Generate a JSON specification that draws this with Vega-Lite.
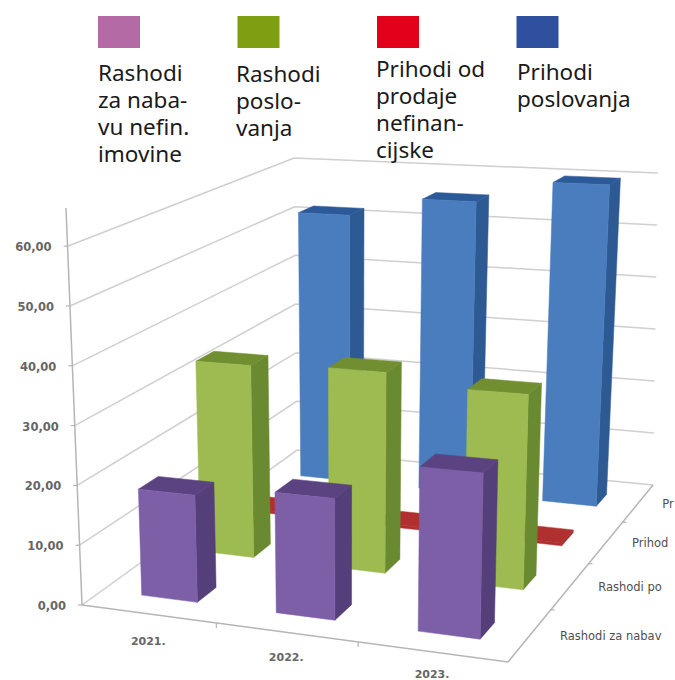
{
"$schema":"https://vega.github.io/schema/vega-lite/v6.json",
"width":675,"height":680,"padding":0,
"autosize":{"type":"none"},
"background":"white",
"config":{"view":{"stroke":null}},
"datasets":{
"bars":[
{"series":"Prihodi poslovanja","year":"2021.","value":52},
{"series":"Prihodi poslovanja","year":"2022.","value":55.8},
{"series":"Prihodi poslovanja","year":"2023.","value":60.1},
{"series":"Prihodi od prodaje nefinancijske","year":"2021.","value":0.5},
{"series":"Prihodi od prodaje nefinancijske","year":"2022.","value":0.5},
{"series":"Prihodi od prodaje nefinancijske","year":"2023.","value":0.5},
{"series":"Rashodi poslovanja","year":"2021.","value":33.9},
{"series":"Rashodi poslovanja","year":"2022.","value":34.6},
{"series":"Rashodi poslovanja","year":"2023.","value":32.8},
{"series":"Rashodi za nabavu nefin. imovine","year":"2021.","value":17.9},
{"series":"Rashodi za nabavu nefin. imovine","year":"2022.","value":19.8},
{"series":"Rashodi za nabavu nefin. imovine","year":"2023.","value":26.3}
],
"ticks":[{"tick":0},{"tick":10},{"tick":20},{"tick":30},{"tick":40},{"tick":50},{"tick":60}],
"legend":[
{"series":"Rashodi za nabavu nefin. imovine","lines":["Rashodi","za naba-","vu nefin.","imovine"],"shown":"Rashodi za nabav"},
{"series":"Rashodi poslovanja","lines":["Rashodi","poslo-","vanja"],"shown":"Rashodi po"},
{"series":"Prihodi od prodaje nefinancijske","lines":["Prihodi od","prodaje","nefinan-","cijske"],"shown":"Prihod"},
{"series":"Prihodi poslovanja","lines":["Prihodi","poslovanja"],"shown":"Pr"}
],
"years":[{"year":"2021."},{"year":"2022."},{"year":"2023."}]
},
"layer":[
{"data":{"name":"ticks"},
"transform":[
{"calculate":"[0,1,2]","as":"pts"},{"flatten":["pts"],"as":["pt"]},
{"calculate":"[0,0,1][datum.pt]","as":"pu"},{"calculate":"[0,1,1][datum.pt]","as":"pv"},{"calculate":"datum.tick","as":"ph"},
{"calculate":"1-0.079*datum.pu+0.2288*datum.pv","as":"w"},
{"calculate":"(385.9*datum.pu+283*datum.pv+82)/datum.w","as":"xb"},
{"calculate":"(4.7*datum.pu-52*datum.pv+605)/datum.w","as":"yb"},
{"calculate":"datum.pt<2?datum.xb+datum.ph*(datum.xb-350)*0.0009:datum.xb+datum.ph*0.08","as":"px"},
{"calculate":"datum.yb-datum.ph*5.98/datum.w","as":"py"}
],
"mark":{"type":"line","color":"#cfcfcf","strokeWidth":1.5},
"encoding":{
"x":{"field":"px","type":"quantitative","axis":null,"scale":{"domain":[0,675],"nice":false,"zero":false}},
"y":{"field":"py","type":"quantitative","axis":null,"scale":{"domain":[680,0],"nice":false,"zero":false}},
"detail":{"field":"tick"},"order":{"field":"pt"}}},
{"data":{"name":"ticks"},
"transform":[
{"filter":"datum.tick==0"},
{"calculate":"[0,1,2]","as":"pts"},{"flatten":["pts"],"as":["pt"]},
{"calculate":"[0,1,1][datum.pt]","as":"pu"},{"calculate":"[0,0,1][datum.pt]","as":"pv"},
{"calculate":"1-0.079*datum.pu+0.2288*datum.pv","as":"w"},
{"calculate":"(385.9*datum.pu+283*datum.pv+82)/datum.w","as":"px"},
{"calculate":"(4.7*datum.pu-52*datum.pv+605)/datum.w","as":"py"}
],
"mark":{"type":"line","color":"#b5b5b5","strokeWidth":1.5},
"encoding":{"x":{"field":"px","type":"quantitative"},"y":{"field":"py","type":"quantitative"},"order":{"field":"pt"}}},
{"data":{"name":"years"},
"transform":[
{"calculate":"indexof(['2021.','2022.','2023.'],datum.year)/3","as":"pu"},
{"filter":"datum.pu>0"},
{"calculate":"1-0.079*datum.pu","as":"w"},
{"calculate":"(385.9*datum.pu+82)/datum.w","as":"px"},
{"calculate":"(4.7*datum.pu+605)/datum.w","as":"py"},
{"calculate":"datum.py+5","as":"py2"}
],
"mark":{"type":"rule","color":"#b5b5b5","strokeWidth":1.2},
"encoding":{"x":{"field":"px","type":"quantitative"},"y":{"field":"py","type":"quantitative"},"y2":{"field":"py2"}}},
{"data":{"name":"legend"},
"transform":[
{"calculate":"indexof(['Rashodi za nabavu nefin. imovine','Rashodi poslovanja','Prihodi od prodaje nefinancijske','Prihodi poslovanja'],datum.series)/4","as":"pv"},
{"filter":"datum.pv>0"},
{"calculate":"0.921+0.2288*datum.pv","as":"w"},
{"calculate":"(467.9+283*datum.pv)/datum.w","as":"px"},
{"calculate":"(609.7-52*datum.pv)/datum.w","as":"py"},
{"calculate":"datum.px+4","as":"px2"}
],
"mark":{"type":"rule","color":"#b5b5b5","strokeWidth":1.2},
"encoding":{"x":{"field":"px","type":"quantitative"},"x2":{"field":"px2"},"y":{"field":"py","type":"quantitative"}}},
{"data":{"name":"ticks"},
"transform":[
{"calculate":"82+datum.tick*(82-350)*0.0009","as":"px"},
{"calculate":"605-datum.tick*5.98","as":"py"},
{"calculate":"datum.px-4","as":"px2"},
{"calculate":"replace(format(datum.tick,'.2f'),'.',',')","as":"lab"}
],
"layer":[
{"mark":{"type":"line","color":"#b5b5b5","strokeWidth":1.5},
"transform":[{"filter":"datum.tick==0||datum.tick==60"},{"calculate":"datum.tick==60?208:datum.py","as":"py"},{"calculate":"datum.tick==60?66:datum.px","as":"px"}],
"encoding":{"x":{"field":"px","type":"quantitative"},"y":{"field":"py","type":"quantitative"},"order":{"field":"tick"}}},
{"mark":{"type":"rule","color":"#b5b5b5","strokeWidth":1.2},
"encoding":{"x":{"field":"px","type":"quantitative"},"x2":{"field":"px2"},"y":{"field":"py","type":"quantitative"}}},
{"transform":[{"calculate":"datum.px-16","as":"lx"},{"calculate":"datum.py+2","as":"ly"}],
"mark":{"type":"text","align":"right","baseline":"middle","font":"DejaVu Sans","fontSize":11.5,"fontWeight":"bold","color":"#666666"},
"encoding":{"x":{"field":"lx","type":"quantitative"},"y":{"field":"ly","type":"quantitative"},"text":{"field":"lab"}}}
]},
{"data":{"name":"bars"},
"transform":[
{"calculate":"indexof(['Rashodi za nabavu nefin. imovine','Rashodi poslovanja','Prihodi od prodaje nefinancijske','Prihodi poslovanja'],datum.series)","as":"si"},
{"calculate":"indexof(['2021.','2022.','2023.'],datum.year)","as":"yi"},
{"calculate":"['side','top','front']","as":"faces"},{"flatten":["faces"],"as":["face"]},
{"calculate":"[0,1,2,3]","as":"cs"},{"flatten":["cs"],"as":["c"]},
{"calculate":"datum.face=='side'?1:[0,1,1,0][datum.c]","as":"bu"},
{"calculate":"datum.face=='front'?0:datum.face=='side'?[0,1,1,0][datum.c]:[0,0,1,1][datum.c]","as":"bv"},
{"calculate":"datum.face=='top'?1:[0,0,1,1][datum.c]","as":"bh"},
{"calculate":"(datum.yi+0.3)/3+0.14*datum.bu","as":"pu"},
{"calculate":"0.08+0.25*datum.si+0.08*datum.bv","as":"pv"},
{"calculate":"datum.bh*datum.value","as":"ph"},
{"calculate":"1-0.079*datum.pu+0.2288*datum.pv","as":"w"},
{"calculate":"(385.9*datum.pu+283*datum.pv+82)/datum.w","as":"xb"},
{"calculate":"(4.7*datum.pu-52*datum.pv+605)/datum.w","as":"yb"},
{"calculate":"datum.xb+datum.ph*(datum.xb-350)*0.0009","as":"px"},
{"calculate":"datum.yb-datum.ph*5.98/datum.w","as":"py"},
{"calculate":"datum.si+'-'+datum.face","as":"key"},
{"calculate":"datum.si+'-'+datum.yi+'-'+datum.face","as":"fid"}
],
"mark":{"type":"line","interpolate":"linear-closed","strokeWidth":0.5},
"encoding":{
"x":{"field":"px","type":"quantitative"},
"y":{"field":"py","type":"quantitative"},
"detail":{"field":"fid"},
"order":{"field":"c"},
"fill":{"field":"key","type":"nominal","legend":null,"scale":{"domain":["0-front","0-side","0-top","1-front","1-side","1-top","2-front","2-side","2-top","3-front","3-side","3-top","swatch-0","swatch-1","swatch-2","swatch-3"],"range":["#7D5FA8","#553F7B","#5B4382","#9DBB51","#6A8A31","#718F30","#B03030","#A32B2B","#B03030","#4A7DBE","#2E5A94","#2C5998","#B46AA5","#7F9F12","#E2001A","#2F4F9F"]}},
"stroke":{"field":"key","type":"nominal","legend":null,"scale":{"domain":["0-front","0-side","0-top","1-front","1-side","1-top","2-front","2-side","2-top","3-front","3-side","3-top"],"range":["#7D5FA8","#553F7B","#5B4382","#9DBB51","#6A8A31","#718F30","#B03030","#A32B2B","#B03030","#4A7DBE","#2E5A94","#2C5998"]}}
}},
{"data":{"name":"years"},
"transform":[
{"calculate":"(indexof(['2021.','2022.','2023.'],datum.year)+0.5)/3","as":"pu"},
{"calculate":"1-0.079*datum.pu","as":"w"},
{"calculate":"(385.9*datum.pu+82)/datum.w","as":"px"},
{"calculate":"(4.7*datum.pu+605)/datum.w+29.5-7*datum.pu","as":"py"}
],
"mark":{"type":"text","align":"center","baseline":"middle","font":"DejaVu Sans","fontSize":11,"fontWeight":"bold","color":"#666666"},
"encoding":{"x":{"field":"px","type":"quantitative"},"y":{"field":"py","type":"quantitative"},"text":{"field":"year"}}},
{"data":{"name":"legend"},
"transform":[
{"calculate":"indexof(['Rashodi za nabavu nefin. imovine','Rashodi poslovanja','Prihodi od prodaje nefinancijske','Prihodi poslovanja'],datum.series)","as":"si"},
{"calculate":"(datum.si+0.5)/4","as":"pv"},
{"calculate":"0.921+0.2288*datum.pv","as":"w"},
{"calculate":"(467.9+283*datum.pv)/datum.w+30-2*datum.si","as":"px"},
{"calculate":"(609.7-52*datum.pv)/datum.w+2","as":"py"}
],
"mark":{"type":"text","align":"left","baseline":"middle","font":"DejaVu Sans","fontSize":11.5,"color":"#4f4f4f"},
"encoding":{"x":{"field":"px","type":"quantitative"},"y":{"field":"py","type":"quantitative"},"text":{"field":"shown"}}},
{"data":{"name":"legend"},
"transform":[
{"calculate":"indexof(['Rashodi za nabavu nefin. imovine','Rashodi poslovanja','Prihodi od prodaje nefinancijske','Prihodi poslovanja'],datum.series)","as":"si"},
{"calculate":"98+139.5*datum.si","as":"x0"},{"calculate":"datum.x0+42","as":"x1"},
{"calculate":"16","as":"y0"},{"calculate":"48","as":"y1"},
{"calculate":"'swatch-'+datum.si","as":"key"}
],
"mark":{"type":"rect"},
"encoding":{"x":{"field":"x0","type":"quantitative"},"x2":{"field":"x1"},"y":{"field":"y0","type":"quantitative"},"y2":{"field":"y1"},"fill":{"field":"key","type":"nominal","legend":null}}},
{"data":{"name":"legend"},
"transform":[
{"calculate":"indexof(['Rashodi za nabavu nefin. imovine','Rashodi poslovanja','Prihodi od prodaje nefinancijske','Prihodi poslovanja'],datum.series)","as":"si"},
{"calculate":"[98,236,376,517][datum.si]","as":"tx"},
{"calculate":"[81,82,77,80][datum.si]","as":"ty"}
],
"mark":{"type":"text","align":"left","baseline":"alphabetic","font":"Noto Sans","fontSize":22.5,"lineHeight":27,"color":"#1a1a1a"},
"encoding":{"x":{"field":"tx","type":"quantitative"},"y":{"field":"ty","type":"quantitative"},"text":{"field":"lines"}}}
]
}
